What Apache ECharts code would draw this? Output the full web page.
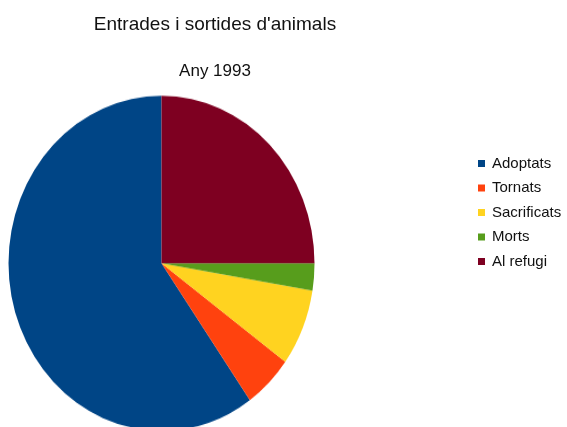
<!DOCTYPE html>
<html>
<head>
<meta charset="utf-8">
<script src="https://cdn.jsdelivr.net/npm/echarts@6/dist/echarts.min.js"></script>
<style>
html,body{margin:0;padding:0;width:567px;height:427px;overflow:hidden;background:#fff;}
#pie{position:absolute;left:0;top:0;width:567px;height:427px;transform-origin:161.5px 263.3px;transform:scaleY(1.095);}
#main{position:absolute;left:0;top:0;width:567px;height:427px;}
</style>
</head>
<body>
<div id="pie"></div>
<div id="main"></div>
<script>
const categories = ['Adoptats', 'Tornats', 'Sacrificats', 'Morts', 'Al refugi'];
const values = [299, 26, 37, 13, 125];
const colors = ['#004586', '#ff420e', '#ffd320', '#579d1c', '#7e0021'];
const titleText = 'Entrades i sortides d\'animals';
const subtitleText = 'Any 1993';

const pieData = categories.map((c, i) => ({ name: c, value: values[i] }));
const font = 'Liberation Sans, Arial, sans-serif';

const pieChart = echarts.init(document.getElementById('pie'), null, { renderer: 'canvas' });
pieChart.setOption({
  animation: false,
  color: colors,
  series: [{
    type: 'pie',
    center: [161.5, 263.3],
    radius: [0, 153],
    startAngle: 90,
    clockwise: false,
    label: { show: false },
    labelLine: { show: false },
    emphasis: { disabled: true },
    itemStyle: { borderWidth: 0 },
    data: pieData
  }]
});

const mainChart = echarts.init(document.getElementById('main'), null, { renderer: 'canvas' });
mainChart.setOption({
  animation: false,
  color: colors,
  title: [
    { text: titleText, left: 215, top: 15, textAlign: 'center', padding: 0,
      textStyle: { fontFamily: font, fontSize: 19, fontWeight: 'normal', color: '#111' } },
    { text: subtitleText, left: 215, top: 63, textAlign: 'center', padding: 0,
      textStyle: { fontFamily: font, fontSize: 17, fontWeight: 'normal', color: '#111' } }
  ],
  legend: {
    orient: 'vertical',
    left: 478,
    top: 156,
    padding: 0,
    itemWidth: 7,
    itemHeight: 7,
    itemGap: 9.5,
    icon: 'rect',
    data: categories,
    textStyle: { fontFamily: font, fontSize: 15, color: '#111', padding: [0, 0, 0, 2] }
  },
  series: [{
    type: 'pie',
    center: [-500, -500],
    radius: [0, 1],
    silent: true,
    label: { show: false },
    labelLine: { show: false },
    data: pieData
  }]
});
</script>
</body>
</html>
